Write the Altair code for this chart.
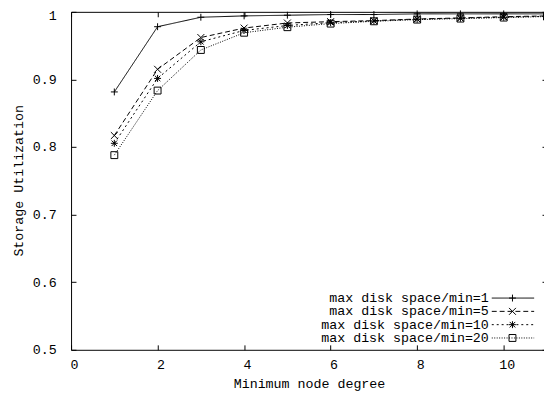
import altair as alt
import pandas as pd

# ---- data ----
x_vals = [1, 2, 3, 4, 5, 6, 7, 8, 9, 10, 11]
series_names = [
    "max disk space/min=1",
    "max disk space/min=5",
    "max disk space/min=10",
    "max disk space/min=20",
]
util_min1 = [0.8815, 0.978, 0.992, 0.994, 0.995, 0.996, 0.996, 0.997, 0.997, 0.997, 0.997]
util_min5 = [0.817, 0.915, 0.962, 0.976, 0.9835, 0.9855, 0.987, 0.9894, 0.991, 0.9928, 0.994]
util_min10 = [0.8055, 0.9015, 0.9557, 0.9725, 0.9798, 0.984, 0.9865, 0.989, 0.9905, 0.992, 0.9935]
util_min20 = [0.788, 0.8835, 0.9436, 0.9691, 0.9773, 0.9826, 0.986, 0.9885, 0.990, 0.9915, 0.993]
x_ticks = [0, 2, 4, 6, 8, 10]
y_ticks = [0.5, 0.6, 0.7, 0.8, 0.9, 1.0]

all_series = [util_min1, util_min5, util_min10, util_min20]
rows = []
for name, vals in zip(series_names, all_series):
    for xv, yv in zip(x_vals, vals):
        rows.append({"series": name, "degree": xv, "util": yv})
df = pd.DataFrame(rows)
df_leg = pd.DataFrame({"series": series_names})

FONT = "Liberation Mono"
FS = 13.5

dash_scale = alt.Scale(domain=series_names, range=[[1, 0], [5, 3], [2, 3], [1, 1.5]])
shape_scale = alt.Scale(
    domain=series_names,
    range=[
        "M-1,0L1,0M0,-1L0,1",
        "M-1,-1L1,1M-1,1L1,-1",
        "M-1,0L1,0M0,-1L0,1M-0.8,-0.8L0.8,0.8M-0.8,0.8L0.8,-0.8",
        "square",
    ],
)

x_scale = alt.Scale(domain=[0, 11], range=[0, 483], nice=False, zero=False)
y_scale = alt.Scale(domain=[0.5, 1.0], nice=False, zero=False)
inward = {"expr": "-5"}

axis_common = dict(
    grid=False,
    domainColor="black",
    tickColor="black",
    labelColor="black",
    titleColor="black",
    labelFont=FONT,
    titleFont=FONT,
    labelFontSize=FS,
    titleFontSize=FS,
    titleFontWeight="normal",
    labelFlush=False,
    tickSize=inward,
)

x_axis = alt.Axis(
    orient="bottom",
    values=x_ticks,
    labelPadding=13,
    labelOffset=3,
    title="Minimum node degree",
    titleX=241.5,
    titleY=34,
    titleAlign="center",
    titleBaseline="middle",
    **axis_common,
)
y_axis = alt.Axis(
    orient="left",
    values=y_ticks,
    format="~g",
    labelPadding=20,
    labelOffset={"condition": {"test": "datum.value >= 1", "value": 4}, "value": 0},
    title="Storage Utilization",
    titleX=-53,
    titleY=171,
    titleAngle=270,
    titleAlign="center",
    titleBaseline="middle",
    **axis_common,
)
x_axis_top = alt.Axis(orient="top", values=x_ticks, labels=False, title=None, **axis_common)
y_axis_right = alt.Axis(orient="right", values=y_ticks, labels=False, title=None, offset=11, **axis_common)

lines = alt.Chart(df).mark_line(color="black", strokeWidth=1).encode(
    x=alt.X("degree:Q", scale=x_scale, axis=x_axis),
    y=alt.Y("util:Q", scale=y_scale, axis=y_axis),
    detail="series:N",
    strokeDash=alt.StrokeDash("series:N", scale=dash_scale, legend=None),
    order="degree:Q",
)

points = alt.Chart(df).mark_point(filled=False, color="black", strokeWidth=1, size=49, opacity=1).encode(
    x=alt.X("degree:Q", scale=x_scale, axis=None),
    y=alt.Y("util:Q", scale=y_scale, axis=None),
    shape=alt.Shape("series:N", scale=shape_scale, legend=None),
)

mirror = alt.Chart(df).mark_line(opacity=0).encode(
    x=alt.X("degree:Q", scale=x_scale, axis=x_axis_top),
    y=alt.Y("util:Q", scale=y_scale, axis=y_axis_right),
    detail="series:N",
)

leg_y = alt.Y(
    "series:N",
    scale=alt.Scale(type="point", domain=series_names, range=[290.5, 331], padding=0),
    axis=None,
)

leg_text = alt.Chart(df_leg).mark_text(
    align="right", baseline="middle", font=FONT, fontSize=FS, color="black"
).encode(x=alt.value(424), y=leg_y, text="series:N")

leg_rule = alt.Chart(df_leg).mark_rule(color="black", strokeWidth=1).encode(
    x=alt.value(427),
    x2=alt.value(470),
    y=leg_y,
    strokeDash=alt.StrokeDash("series:N", scale=dash_scale, legend=None),
)

leg_pt = alt.Chart(df_leg).mark_point(filled=False, color="black", strokeWidth=1, size=49, opacity=1).encode(
    x=alt.value(448),
    y=leg_y,
    shape=alt.Shape("series:N", scale=shape_scale, legend=None),
)

chart = (
    alt.layer(lines, points, mirror, leg_rule, leg_pt, leg_text)
    .resolve_scale(y="independent")
    .resolve_axis(x="independent", y="independent")
    .properties(
        width=472,
        height=343,
        padding={"left": 64, "top": 1, "right": 8, "bottom": 44},
        autosize=alt.AutoSizeParams(type="none"),
    )
    .configure_view(stroke=None)
)

chart.save("out.html", embed_options={"renderer": "svg", "actions": False})
